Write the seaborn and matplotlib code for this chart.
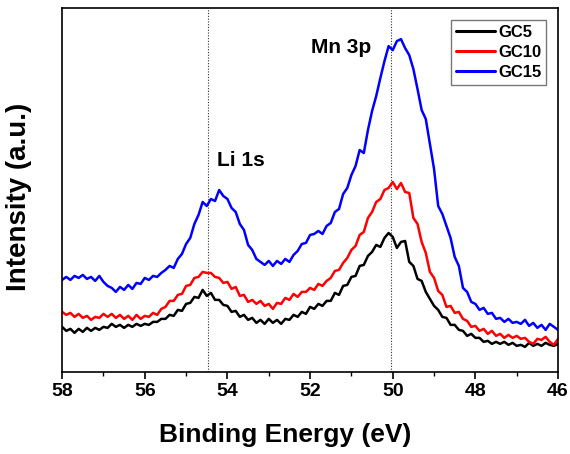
import numpy as np
import pandas as pd
import matplotlib
matplotlib.use("Agg")
import matplotlib.pyplot as plt
import seaborn as sns

# binding energy grid (eV), 0.1 eV steps from 58 down to 46
energy = np.round(np.linspace(58, 46, 121), 2)

# intensities (arbitrary units)
gc5 = [45, 41, 43, 39, 43, 40, 44, 41, 44, 42,
       45, 44, 48, 45, 47, 44, 47, 45, 48, 46,
       48, 47, 50, 50, 53, 53, 57, 56, 62, 61,
       68, 69, 75, 74, 82, 76, 79, 72, 72, 67,
       66, 60, 61, 55, 57, 52, 54, 49, 52, 48,
       53, 49, 52, 48, 53, 52, 57, 55, 60, 58,
       65, 63, 68, 66, 71, 71, 79, 77, 86, 87,
       95, 96, 106, 107, 116, 120, 127, 125, 134, 139,
       135, 124, 130, 131, 110, 106, 93, 91, 80, 73,
       66, 62, 55, 54, 47, 47, 42, 41, 36, 38,
       34, 34, 30, 31, 28, 30, 28, 30, 27, 29,
       26, 27, 25, 29, 26, 28, 26, 29, 27, 26,
       28]
gc10 = [60, 57, 59, 55, 58, 54, 56, 52, 55, 54,
        58, 55, 58, 54, 57, 53, 56, 52, 57, 53,
        56, 55, 59, 57, 63, 65, 71, 71, 77, 78,
        86, 87, 94, 95, 100, 99, 99, 95, 94, 89,
        90, 83, 85, 76, 77, 70, 72, 68, 71, 66,
        68, 63, 69, 68, 74, 72, 78, 75, 80, 80,
        84, 82, 88, 86, 91, 94, 101, 102, 109, 114,
        122, 126, 137, 140, 154, 160, 170, 173, 182, 184,
        190, 183, 189, 180, 179, 154, 148, 130, 119, 100,
        94, 81, 77, 65, 66, 59, 60, 53, 51, 45,
        46, 41, 43, 38, 41, 36, 38, 34, 37, 34,
        36, 33, 34, 30, 28, 33, 32, 35, 30, 27,
        33]
gc15 = [92, 95, 92, 96, 94, 97, 93, 95, 91, 96,
        90, 86, 84, 80, 85, 82, 87, 83, 89, 88,
        94, 92, 96, 95, 99, 102, 106, 104, 113, 118,
        128, 134, 148, 157, 170, 166, 173, 171, 182, 176,
        173, 164, 160, 148, 142, 127, 122, 113, 110, 107,
        111, 106, 111, 108, 113, 110, 117, 121, 128, 129,
        137, 138, 141, 138, 146, 149, 160, 163, 178, 184,
        197, 206, 222, 219, 242, 261, 276, 294, 311, 326,
        322, 331, 333, 324, 317, 303, 283, 262, 253, 228,
        203, 166, 158, 146, 134, 115, 106, 84, 80, 70,
        68, 62, 64, 58, 59, 53, 54, 50, 53, 49,
        50, 48, 52, 46, 49, 44, 47, 42, 48, 45,
        42]

samples = ["GC5", "GC10", "GC15"]
colors = {"GC5": "black", "GC10": "#ff0000", "GC15": "#0000ff"}
peak_pos = [54.47, 50.05]
peak_names = ["Li 1s", "Mn 3p"]

df = pd.concat([
    pd.DataFrame({"energy": energy, "intensity": vals, "sample": name})
    for name, vals in zip(samples, [gc5, gc10, gc15])
])

sns.set_style("ticks")
plt.rcParams["font.family"] = ["Liberation Sans", "DejaVu Sans"]
plt.rcParams["font.weight"] = "bold"
plt.rcParams["text.color"] = "black"
plt.rcParams["axes.labelcolor"] = "black"
plt.rcParams["xtick.color"] = "black"

fig = plt.figure(figsize=(5.7, 4.54), dpi=100)
ax = fig.add_axes([0.109, 0.181, 0.870, 0.801])

sns.lineplot(data=df, x="energy", y="intensity", hue="sample", hue_order=samples,
             palette=colors, linewidth=1.8, ax=ax, sort=False)

for p in peak_pos:
    ax.axvline(p, color="#333333", linestyle=(0, (1, 1.5)), linewidth=0.8, zorder=0)

ax.text(54.25, 206, peak_names[0], fontsize=15, fontweight="bold", ha="left", va="baseline")
ax.text(51.98, 319, peak_names[1], fontsize=15, fontweight="bold", ha="left", va="baseline")

ax.set_xlim(58, 46)
ax.set_ylim(0, 364)
ax.set_xticks(np.arange(58, 45, -2))
ax.set_xticks(np.arange(57, 46, -2), minor=True)
ax.set_yticks([])
ax.tick_params(axis="x", which="major", direction="out", length=5, width=1.2,
               labelsize=14, pad=3)
ax.tick_params(axis="x", which="minor", direction="out", length=3, width=1.0)
for lab in ax.get_xticklabels():
    lab.set_fontweight("bold")
for s in ax.spines.values():
    s.set_visible(True)
    s.set_color("black")
    s.set_linewidth(1.2)

ax.set_xlabel("Binding Energy (eV)", fontsize=19, fontweight="bold")
ax.set_ylabel("Intensity (a.u.)", fontsize=20, fontweight="bold")
ax.xaxis.set_label_coords(0.449, -0.142)
ax.yaxis.set_label_coords(-0.06, 0.48)

leg = ax.legend(loc="upper right", bbox_to_anchor=(0.976, 0.967), borderaxespad=0,
                fontsize=12, handlelength=2.3, handletextpad=0.2, labelspacing=0.3,
                borderpad=0.3, fancybox=False, frameon=True, title=None)
leg.get_frame().set_edgecolor("#555555")
leg.get_frame().set_linewidth(1.0)
for t in leg.get_texts():
    t.set_fontweight("bold")
for h in leg.get_lines():
    h.set_linewidth(2.2)

fig.savefig("out.png", dpi=100)
